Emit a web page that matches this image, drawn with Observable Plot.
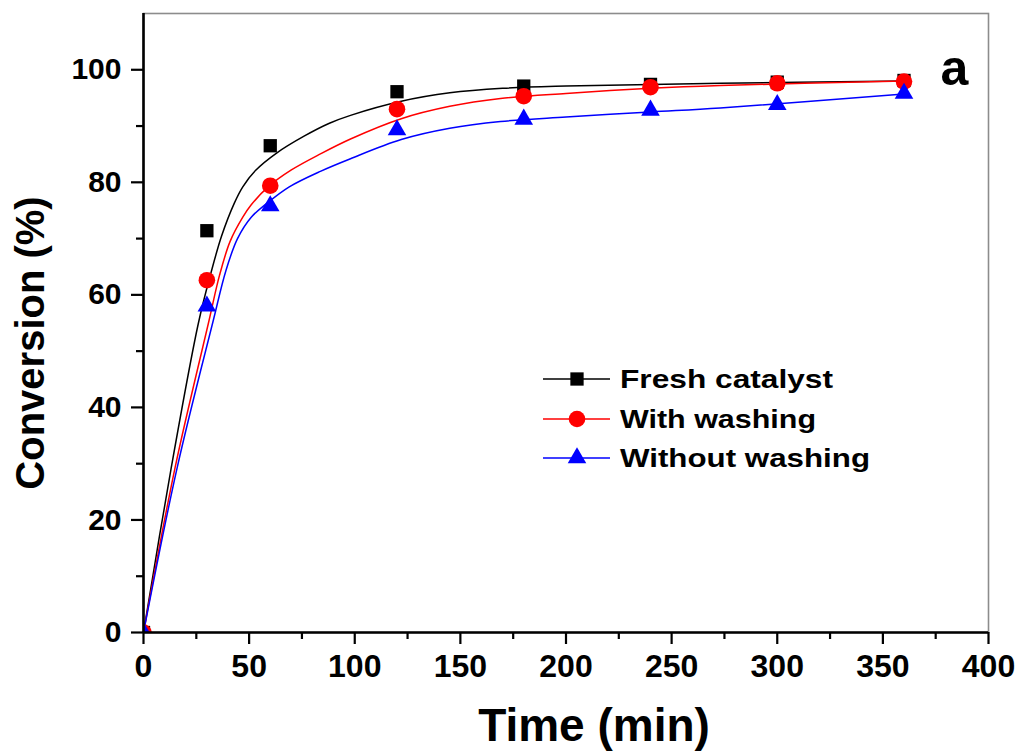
<!DOCTYPE html>
<html>
<head>
<meta charset="utf-8">
<script src="https://cdn.jsdelivr.net/npm/d3@7"></script>
<script src="https://cdn.jsdelivr.net/npm/@observablehq/plot@0.6"></script>
<style>
  html, body { margin: 0; padding: 0; background: #fff; }
  #chart { width: 1023px; height: 753px; }
</style>
</head>
<body>
<div id="chart"></div>
<script>
// ---- data ----
const seriesNames = ["Fresh catalyst", "With washing", "Without washing"];
const seriesColors = ["#000000", "#ff0000", "#0000ff"];
const seriesSymbols = ["square", "circle", "triangle"];

const times = [0, 30, 60, 120, 180, 240, 300, 360];
const freshValues = [0, 71.4, 86.5, 96.1, 97.1, 97.4, 97.8, 98.1];
const withWashingValues = [0, 62.6, 79.4, 93.0, 95.3, 96.9, 97.6, 97.9];
const withoutWashingValues = [0, 58.0, 75.8, 89.3, 91.2, 92.8, 93.8, 95.8];

// fitted curves
const freshFitTimes = [0, 13, 26, 32, 37, 43, 47, 53, 63, 76, 88, 98, 122, 145, 170, 200, 273, 360];
const freshFitValues = [0, 29, 55, 64, 70.5, 76.3, 79.2, 82.1, 85.2, 88.2, 90.5, 91.9, 94.4, 95.9, 96.7, 97.1, 97.6, 98.0];
const withWashingFitTimes = [0, 15, 31, 36, 41, 47, 51, 59, 70, 84, 98, 122, 145, 169, 200, 240, 273, 360];
const withWashingFitValues = [0, 29.4, 55.4, 63.5, 69.5, 73.8, 76.0, 79.2, 82.2, 85.1, 87.7, 91.3, 93.5, 94.9, 95.8, 96.7, 97.2, 98.0];
const withoutWashingFitTimes = [0, 16, 33, 39, 44.5, 51, 58.5, 69, 84, 98, 122, 145, 169, 200, 240, 273, 360];
const withoutWashingFitValues = [0, 29.4, 55.4, 64.3, 70.0, 73.8, 76.3, 79.2, 82.0, 84.2, 87.6, 89.6, 90.8, 91.6, 92.5, 93.2, 95.7];

const xTicks = [0, 50, 100, 150, 200, 250, 300, 350, 400];
const xMinorTicks = [25, 75, 125, 175, 225, 275, 325, 375];
const yTicks = [0, 20, 40, 60, 80, 100];
const yMinorTicks = [10, 30, 50, 70, 90];

// ---- build tables ----
const pointValues = [freshValues, withWashingValues, withoutWashingValues];
const fitTimes = [freshFitTimes, withWashingFitTimes, withoutWashingFitTimes];
const fitValues = [freshFitValues, withWashingFitValues, withoutWashingFitValues];

const points = seriesNames.flatMap((s, i) => times.map((t, j) => ({series: s, t, v: pointValues[i][j]})));
const fits = seriesNames.flatMap((s, i) => fitTimes[i].map((t, j) => ({series: s, t, v: fitValues[i][j]})));

const font = "'Liberation Sans', Arial, Helvetica, sans-serif";
const dotR = [7.5, 8.3, 6.9];

const dotMarks = seriesNames.map((s, i) =>
  Plot.dot(points.filter(d => d.series === s), {
    x: "t", y: "v", fill: seriesColors[i], symbol: seriesSymbols[i], r: dotR[i], stroke: "none", clip: true
  })
);

const plot = Plot.plot({
  width: 1023,
  height: 753,
  marginLeft: 143,
  marginRight: 35,
  marginTop: 13,
  marginBottom: 121,
  style: {fontFamily: font, background: "#fff", overflow: "visible"},
  x: {domain: [0, 400]},
  y: {domain: [0, 110]},
  color: {domain: seriesNames, range: seriesColors},
  marks: [
    Plot.frame({stroke: "#8c8c8c", strokeWidth: 1.6}),
    Plot.line(fits, {x: "t", y: "v", stroke: "series", z: "series", curve: "catmull-rom", strokeWidth: 1.5}),
    ...dotMarks,
    Plot.axisY({ticks: yTicks, tickSize: 12, tickPadding: 10, strokeWidth: 2.2, fontSize: 30, fontWeight: "bold", fill: "#000", label: null}),
    Plot.axisY({ticks: yMinorTicks, tickSize: 7, strokeWidth: 2.2, text: null, label: null}),
    Plot.axisX({ticks: xTicks, tickSize: 12, tickPadding: 10, strokeWidth: 2.2, fontSize: 32, fontWeight: "bold", fill: "#000", label: null}),
    Plot.axisX({ticks: xMinorTicks, tickSize: 7, strokeWidth: 2.2, text: null, label: null}),
    Plot.ruleX([0], {stroke: "#000", strokeWidth: 2.6}),
    Plot.ruleY([0], {stroke: "#000", strokeWidth: 2.6}),
    Plot.text(["Conversion (%)"], {frameAnchor: "left", dx: -112, dy: 20, rotate: -90, fontSize: 40, fontWeight: "bold", fill: "#000", textAnchor: "middle", lineAnchor: "middle"}),
    Plot.text(["Time (min)"], {frameAnchor: "bottom", dx: 28, dy: 94, fontSize: 46, fontWeight: "bold", fill: "#000", textAnchor: "middle", lineAnchor: "middle"}),
    Plot.text(["a"], {frameAnchor: "top-right", dx: -34, dy: 55, fontSize: 50, fontWeight: "bold", fill: "#000", textAnchor: "middle", lineAnchor: "middle"})
  ]
});

// ---- legend inside the plot area ----
const svg = d3.select(plot);
const legend = svg.append("g").attr("font-family", font).attr("font-weight", "bold");
const legendX0 = 543, legendX1 = 610, legendMarkerX = 577, legendTextX = 620;
const legendRowY = [379, 419, 458];
const legendTextLen = [213, 196, 250];
seriesNames.forEach((s, i) => {
  const y = legendRowY[i];
  legend.append("line").attr("x1", legendX0).attr("x2", legendX1).attr("y1", y).attr("y2", y)
    .attr("stroke", seriesColors[i]).attr("stroke-width", 1.5);
  const sym = {square: d3.symbolSquare, circle: d3.symbolCircle, triangle: d3.symbolTriangle}[seriesSymbols[i]];
  legend.append("path").attr("d", d3.symbol(sym, Math.PI * dotR[i] * dotR[i])())
    .attr("transform", `translate(${legendMarkerX},${y})`).attr("fill", seriesColors[i]);
  legend.append("text").attr("x", legendTextX).attr("y", y).attr("dy", "0.36em")
    .attr("text-anchor", "start")
    .attr("font-size", 26).attr("fill", "#000")
    .attr("textLength", legendTextLen[i]).attr("lengthAdjust", "spacingAndGlyphs")
    .text(s);
});

document.getElementById("chart").appendChild(plot);
</script>
</body>
</html>
